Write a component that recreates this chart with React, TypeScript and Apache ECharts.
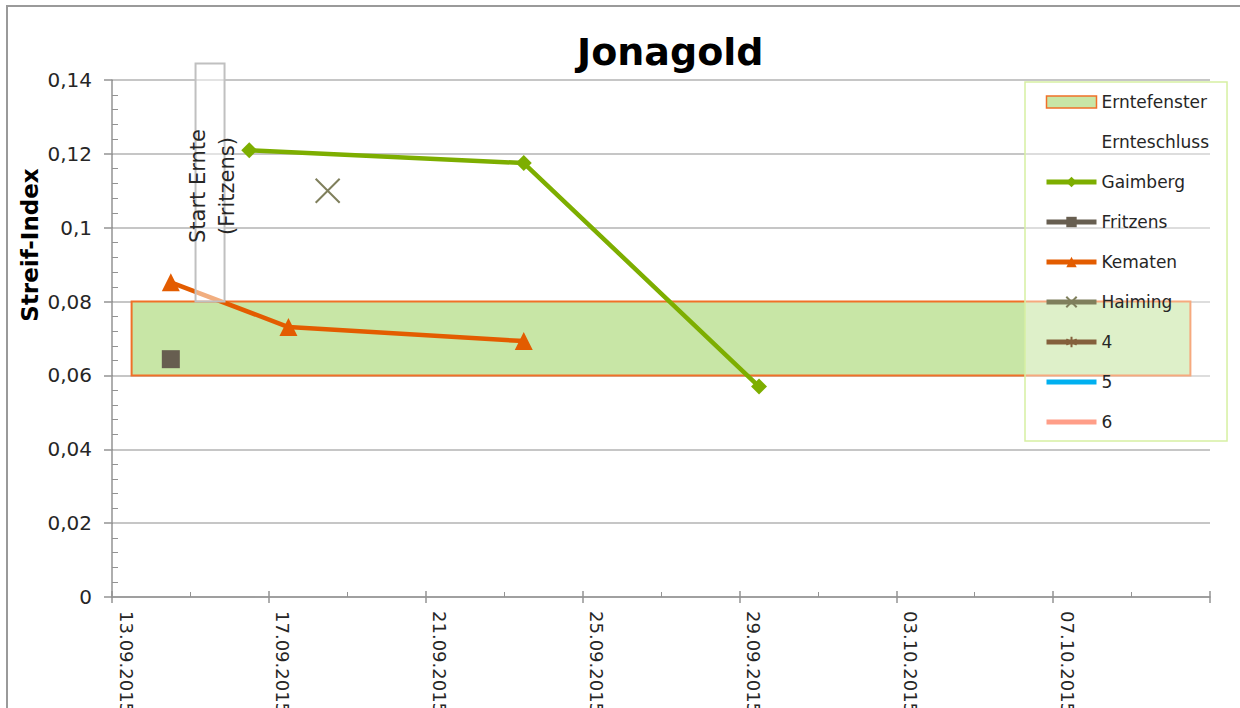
import React, { useEffect, useRef } from "react";
import * as echarts from "echarts";

// ---- data ----
const AXIS_START = "13.09.2015";
const AXIS_END = "11.10.2015";
const TICK_DAYS = 4;

const gaimbergDates = ["16.09.2015", "23.09.2015", "29.09.2015"];
const gaimbergValues = [0.121, 0.1175, 0.057];

const fritzensDates = ["14.09.2015"];
const fritzensValues = [0.0644];

const kematenDates = ["14.09.2015", "17.09.2015", "23.09.2015"];
const kematenValues = [0.0852, 0.0731, 0.0693];

const haimingDates = ["18.09.2015"];
const haimingValues = [0.11];

const erntefensterFrom = "13.09.2015";
const erntefensterTo = "10.10.2015";
const erntefensterLow = 0.06;
const erntefensterHigh = 0.08;

const startErnteDate = "15.09.2015";
const startErnteLabel = "Start Ernte\n(Fritzens)";

const yTicks = [0, 0.02, 0.04, 0.06, 0.08, 0.1, 0.12, 0.14];

// ---- helpers ----
const DAY = 86400000;
const parseDate = (d: string) => {
  const [dd, mm, yy] = d.split(".").map(Number);
  return Date.UTC(yy, mm - 1, dd);
};
const base = parseDate(AXIS_START);
const dayOffset = (d: string) => (parseDate(d) - base) / DAY;
// Excel date axis: point sits in the middle of its day
const dayCenter = (d: string) => dayOffset(d) + 0.5;
const pad2 = (n: number) => (n < 10 ? "0" + n : "" + n);
const fmtDate = (v: number) => {
  const dt = new Date(base + Math.round(v) * DAY);
  return pad2(dt.getUTCDate()) + "." + pad2(dt.getUTCMonth() + 1) + "." + dt.getUTCFullYear();
};
const fmtY = (v: number) => String(Math.round(v * 100) / 100).replace(".", ",");
const pairs = (dates: string[], vals: number[]) => dates.map((d, i) => [dayCenter(d), vals[i]]);

const FONT = "DejaVu Sans";
const TEXT = "#262626";
const C_GAIMBERG = "#7dae00";
const C_FRITZENS = "#675e50";
const C_KEMATEN = "#e35c00";
const C_HAIMING = "#7f7f5c";
const C_4 = "#84603c";
const C_5 = "#00b0f0";
const C_6 = "#ff9e88";
const C_FILL = "#c8e6a6";
const C_BORDER = "#f07028";

export default function App() {
  const ref = useRef<HTMLDivElement>(null);

  useEffect(() => {
    if (!ref.current) return;
    const chart = echarts.init(ref.current, null, { renderer: "svg" });
    const xMax = dayOffset(AXIS_END);

    const option: any = {
      animation: false,
      backgroundColor: "#fff",
      title: {
        text: "Jonagold",
        left: 572,
        top: 28,
        textStyle: { fontFamily: FONT, fontSize: 38, fontWeight: "bold", color: "#000" },
      },
      grid: { left: 112, right: 30, top: 80, bottom: 111, containLabel: false, outerBoundsMode: "none" },
      xAxis: [
        {
          type: "value",
          min: 0,
          max: xMax,
          interval: TICK_DAYS,
          axisLine: { lineStyle: { color: "#939393", width: 1.5 } },
          axisTick: { show: true, inside: true, length: 6, lineStyle: { color: "#939393", width: 1.5 } },
          minorTick: { show: true, splitNumber: 2, length: 5, lineStyle: { color: "#939393", width: 1 } },
          splitLine: { show: false },
          axisLabel: {
            rotate: -90,
            margin: 14,
            verticalAlign: "bottom",
            lineHeight: 28,
            showMaxLabel: false,
            fontFamily: FONT,
            fontSize: 18,
            color: TEXT,
            formatter: (v: number) => fmtDate(v),
          },
        },
        {
          type: "value",
          position: "bottom",
          min: 0,
          max: xMax,
          interval: TICK_DAYS,
          axisLine: { show: false },
          axisTick: { show: true, inside: false, length: 6, lineStyle: { color: "#939393", width: 1.5 } },
          axisLabel: { show: false },
          splitLine: { show: false },
        },
      ],
      yAxis: [
        {
          type: "value",
          min: yTicks[0],
          max: yTicks[yTicks.length - 1],
          interval: 0.02,
          axisLine: { show: true, lineStyle: { color: "#939393", width: 1.5 } },
          axisTick: { show: true, inside: true, length: 1, lineStyle: { color: "#939393" } },
          minorTick: { show: true, splitNumber: 5, length: 6, lineStyle: { color: "#939393", width: 1 } },
          splitLine: { show: true, lineStyle: { color: "#b3b3b3", width: 1.5 } },
          axisLabel: {
            margin: 20,
            fontFamily: FONT,
            fontSize: 20,
            color: TEXT,
            formatter: (v: number) => fmtY(v),
          },
        },
        {
          type: "value",
          position: "left",
          min: yTicks[0],
          max: yTicks[yTicks.length - 1],
          interval: 0.02,
          axisLine: { show: false },
          axisTick: { show: true, inside: false, length: 8, lineStyle: { color: "#939393", width: 1.5 } },
          axisLabel: { show: false },
          splitLine: { show: false },
        },
      ],
      legend: {
        orient: "vertical",
        left: 1025,
        top: 82,
        selectedMode: false,
        itemWidth: 50,
        itemHeight: 13,
        itemGap: 20,
        padding: [10, 18, 9, 19],
        backgroundColor: "rgba(255,255,255,0.4)",
        borderColor: "#d6f0a2",
        borderWidth: 1.5,
        lineStyle: { width: 5 },
        textStyle: { fontFamily: FONT, fontSize: 17, color: TEXT, lineHeight: 20 },
        data: [
          {
            name: "Erntefenster",
            icon: "path://M0,0H46V11H0Z",
            itemStyle: { color: C_FILL, borderColor: C_BORDER, borderWidth: 1.5 },
          },
          "Ernteschluss",
          "Gaimberg",
          "Fritzens",
          "Kematen",
          "Haiming",
          "4",
          "5",
          "6",
        ],
      },
      series: [
        {
          name: "Erntefenster",
          type: "custom",
          z: 1,
          itemStyle: { color: C_FILL },
          encode: { x: [0, 1], y: [2, 3] },
          data: [[dayOffset(erntefensterFrom) + 0.5, dayOffset(erntefensterTo) + 0.5, erntefensterLow, erntefensterHigh]],
          renderItem: (_p: any, api: any) => {
            const a = api.coord([api.value(0), api.value(3)]);
            const b = api.coord([api.value(1), api.value(2)]);
            return {
              type: "rect",
              shape: { x: a[0], y: a[1], width: b[0] - a[0], height: b[1] - a[1] },
              style: { fill: C_FILL, stroke: C_BORDER, lineWidth: 2 },
            };
          },
        },
        {
          name: "Ernteschluss",
          type: "line",
          data: [],
          symbol: "none",
          itemStyle: { color: "#000", opacity: 0 },
          lineStyle: { opacity: 0 },
        },
        {
          name: "Gaimberg",
          type: "line",
          z: 3,
          data: pairs(gaimbergDates, gaimbergValues),
          symbol: "diamond",
          symbolSize: 16,
          itemStyle: { color: C_GAIMBERG },
          lineStyle: { color: C_GAIMBERG, width: 4.5 },
        },
        {
          name: "Fritzens",
          type: "line",
          z: 3,
          data: pairs(fritzensDates, fritzensValues),
          symbol: "rect",
          symbolSize: 18,
          itemStyle: { color: C_FRITZENS },
          lineStyle: { color: C_FRITZENS, width: 4.5 },
        },
        {
          name: "Kematen",
          type: "line",
          z: 3,
          data: pairs(kematenDates, kematenValues),
          symbol: "triangle",
          symbolSize: 18,
          itemStyle: { color: C_KEMATEN },
          lineStyle: { color: C_KEMATEN, width: 4.5 },
        },
        {
          name: "Haiming",
          type: "line",
          z: 3,
          data: pairs(haimingDates, haimingValues),
          symbol: "path://M0,0L10,10M10,0L0,10",
          symbolSize: 24,
          itemStyle: { color: "rgba(0,0,0,0)", borderColor: C_HAIMING, borderWidth: 2 },
          lineStyle: { color: C_HAIMING, width: 4.5 },
        },
        {
          name: "4",
          type: "line",
          data: [],
          symbol: "path://M5,0L5,10M0,2.5L10,7.5M0,7.5L10,2.5",
          symbolSize: 10,
          itemStyle: { color: "rgba(0,0,0,0)", borderColor: C_4, borderWidth: 1.5 },
          lineStyle: { color: C_4, width: 4.5 },
        },
        {
          name: "5",
          type: "line",
          data: [],
          symbol: "none",
          itemStyle: { color: C_5, opacity: 0 },
          lineStyle: { color: C_5, width: 4.5, opacity: 1 },
        },
        {
          name: "6",
          type: "line",
          data: [],
          symbol: "none",
          itemStyle: { color: C_6, opacity: 0 },
          lineStyle: { color: C_6, width: 4.5, opacity: 1 },
        },
      ],
    };

    chart.setOption(option);

    const sx = chart.convertToPixel({ xAxisIndex: 0 }, dayCenter(startErnteDate)) as number;
    const sy = chart.convertToPixel({ yAxisIndex: 0 }, erntefensterHigh) as number;
    const boxW = 29;
    const boxH = 238;

    chart.setOption({
      graphic: [
        {
          type: "line",
          z: 100,
          silent: true,
          shape: { x1: 7, y1: 6, x2: 7, y2: 708 },
          style: { stroke: "#9a9a9a", lineWidth: 2 },
        },
        {
          type: "line",
          z: 100,
          silent: true,
          shape: { x1: 6, y1: 6, x2: 1240, y2: 6 },
          style: { stroke: "#9a9a9a", lineWidth: 2 },
        },
        {
          type: "rect",
          z: 50,
          silent: true,
          shape: { x: sx - boxW / 2, y: sy - boxH, width: boxW, height: boxH },
          style: { fill: "rgba(255,255,255,0.5)", stroke: "#c0c0c0", lineWidth: 2 },
        },
        {
          type: "text",
          z: 51,
          silent: true,
          x: sx + 2,
          y: 186,
          rotation: Math.PI / 2,
          style: {
            text: startErnteLabel,
            fontFamily: FONT,
            fontSize: 21,
            lineHeight: 29,
            fill: TEXT,
            align: "center",
            verticalAlign: "middle",
          },
        },
        {
          type: "text",
          z: 51,
          silent: true,
          x: 30,
          y: 245,
          rotation: Math.PI / 2,
          style: {
            text: "Streif-Index",
            fontFamily: FONT,
            fontSize: 23,
            fontWeight: "bold",
            fill: "#000",
            align: "center",
            verticalAlign: "middle",
          },
        },
      ],
    });

    return () => chart.dispose();
  }, []);

  return (
    <div
      ref={ref}
      style={{ position: "fixed", left: 0, top: 0, width: 1240, height: 708 }}
    />
  );
}
